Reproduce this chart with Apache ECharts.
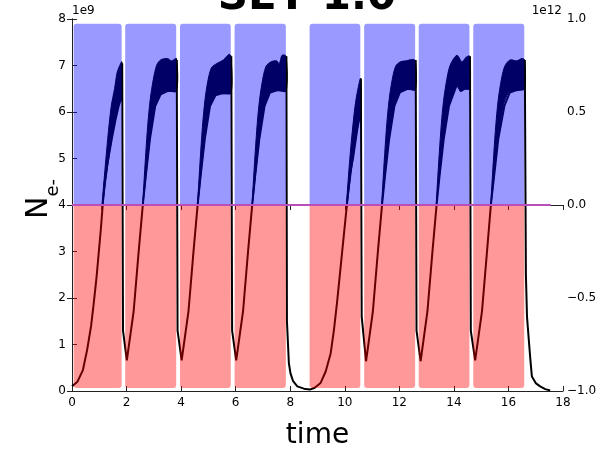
<!DOCTYPE html>
<html lang="en">

<head>
    <meta charset="UTF-8">
    <script src="https://cdn.jsdelivr.net/npm/echarts@6/dist/echarts.min.js"></script>
    <title>SEY 1.0</title>
    <style>
        html, body { margin: 0; padding: 0; background: #fff; overflow: hidden; }
        #chart { width: 614px; height: 455px; }
    </style>
</head>

<body>
    <div id="chart"></div>
    <script>
        // x ticks / y ticks
        var timeTicks = [0, 2, 4, 6, 8, 10, 12, 14, 16, 18];
        var leftTicks = [0, 1, 2, 3, 4, 5, 6, 7, 8];
        var rightTicks = [-1.0, -0.5, 0.0, 0.5, 1.0];

        // drive pulses (right axis, units of 1e12)
        var pulseStart = [0.06, 1.95, 3.96, 5.96, 8.71, 10.71, 12.71, 14.71];
        var pulseEnd = [1.82, 3.82, 5.82, 7.84, 10.57, 12.58, 14.57, 16.58];
        var pulseHigh = 0.974;
        var pulseLow = -0.984;

        // reference line on right axis
        var zeroLineTime = [0, 17.55];

        // electron count, thin part (units of 1e9)
        var curveTime = [
            0, 0.2, 0.4, 0.55, 0.7, 0.79, 0.9, 0.98, 1.06, 1.13, 1.2, 1.3, 1.46, 1.6, 1.71, 1.82, 1.84, 1.87,
            2.01, 2.26, 2.44, 2.6, 2.7, 2.86, 3.05, 3.25, 3.5, 3.82, 3.84, 3.87,
            4.02, 4.27, 4.45, 4.61, 4.71, 4.87, 5.06, 5.26, 5.5, 5.82, 5.84, 5.87,
            6.02, 6.27, 6.45, 6.61, 6.71, 6.87, 7.06, 7.26, 7.55, 7.84, 7.86, 7.88,
            7.95, 8.01, 8.1, 8.26, 8.5, 8.72, 8.9, 9.11, 9.3, 9.48, 9.6, 9.72, 9.9, 10.06, 10.2, 10.3, 10.45, 10.57, 10.59, 10.62,
            10.78, 11.03, 11.21, 11.37, 11.47, 11.63, 11.82, 12.02, 12.3, 12.58, 12.6, 12.63,
            12.78, 13.03, 13.21, 13.37, 13.47, 13.63, 13.82, 14.02, 14.11, 14.25, 14.4, 14.57, 14.59, 14.62,
            14.78, 15.03, 15.21, 15.36, 15.47, 15.63, 15.85, 16.05, 16.3, 16.58, 16.6, 16.64,
            16.68, 16.73, 16.8, 16.86, 17.0, 17.16, 17.35, 17.53
        ];
        var curveN = [
            0.1, 0.2, 0.45, 0.87, 1.4, 1.85, 2.45, 2.97, 3.5, 4.03, 4.5, 4.9, 5.43, 5.85, 6.13, 6.34, 7.05, 1.3,
            0.66, 1.71, 2.97, 4.03, 4.6, 5.43, 6.13, 6.38, 6.45, 6.45, 7.12, 1.3,
            0.66, 1.71, 2.97, 4.03, 4.6, 5.43, 6.13, 6.36, 6.4, 6.41, 7.2, 1.3,
            0.66, 1.71, 2.97, 4.03, 4.6, 5.43, 6.13, 6.42, 6.47, 6.45, 7.2, 1.5,
            0.6, 0.38, 0.22, 0.1, 0.05, 0.03, 0.07, 0.17, 0.42, 0.8, 1.3, 1.92, 2.97, 3.9, 4.7, 5.0, 5.6, 6.0, 6.72, 1.6,
            0.64, 1.71, 2.97, 4.03, 4.6, 5.43, 6.13, 6.42, 6.5, 6.48, 7.12, 1.3,
            0.64, 1.71, 2.97, 4.03, 4.6, 5.43, 6.13, 6.45, 6.59, 6.45, 6.5, 6.5, 7.2, 1.3,
            0.66, 1.71, 2.97, 4.03, 4.6, 5.43, 6.13, 6.42, 6.47, 6.5, 7.12, 2.5,
            1.6, 1.22, 0.7, 0.31, 0.17, 0.1, 0.04, 0.01
        ];

        // oscillation band of each pulse: upper and lower envelope, [time, N]
        var bandUpper = [
            [[1.1, 4.0], [1.31, 5.43], [1.44, 6.13], [1.56, 6.5], [1.65, 6.84], [1.75, 7.0], [1.83, 7.08]],
            [[2.6, 4.1], [2.74, 5.43], [2.84, 6.13], [2.95, 6.6], [3.1, 7.0], [3.25, 7.12], [3.5, 7.15], [3.65, 7.1], [3.83, 7.15]],
            [[4.61, 4.1], [4.75, 5.43], [4.85, 6.13], [4.96, 6.6], [5.11, 6.95], [5.33, 7.05], [5.55, 7.12], [5.76, 7.24], [5.83, 7.2]],
            [[6.61, 4.1], [6.75, 5.43], [6.85, 6.13], [6.96, 6.6], [7.11, 6.98], [7.3, 7.08], [7.5, 7.1], [7.6, 7.04], [7.7, 7.22], [7.85, 7.2]],
            [[10.06, 4.0], [10.2, 5.1], [10.35, 6.0], [10.45, 6.4], [10.58, 6.72]],
            [[11.36, 4.1], [11.5, 5.43], [11.6, 6.13], [11.71, 6.6], [11.86, 6.98], [12.04, 7.08], [12.25, 7.1], [12.47, 7.13], [12.59, 7.1]],
            [[13.36, 4.1], [13.5, 5.43], [13.6, 6.13], [13.71, 6.6], [13.86, 7.0], [14.11, 7.22], [14.3, 7.08], [14.45, 7.18], [14.58, 7.2]],
            [[15.36, 4.1], [15.5, 5.43], [15.6, 6.13], [15.71, 6.6], [15.86, 6.98], [16.06, 7.12], [16.3, 7.1], [16.49, 7.15], [16.59, 7.12]]
        ];
        var bandLower = [
            [[1.1, 3.9], [1.3, 4.8], [1.46, 5.43], [1.6, 5.85], [1.71, 6.13], [1.83, 6.34]],
            [[2.6, 4.0], [2.86, 5.43], [3.05, 6.13], [3.25, 6.38], [3.5, 6.45], [3.83, 6.45]],
            [[4.61, 4.0], [4.87, 5.43], [5.06, 6.13], [5.26, 6.36], [5.5, 6.4], [5.83, 6.41]],
            [[6.61, 4.0], [6.87, 5.43], [7.06, 6.13], [7.26, 6.42], [7.55, 6.47], [7.85, 6.45]],
            [[10.06, 3.9], [10.3, 5.0], [10.45, 5.6], [10.58, 6.0]],
            [[11.36, 4.0], [11.62, 5.43], [11.81, 6.13], [12.01, 6.42], [12.3, 6.5], [12.59, 6.48]],
            [[13.36, 4.0], [13.62, 5.43], [13.81, 6.13], [14.01, 6.45], [14.11, 6.59], [14.25, 6.45], [14.4, 6.5], [14.58, 6.5]],
            [[15.36, 4.0], [15.62, 5.43], [15.81, 6.13], [16.01, 6.42], [16.3, 6.47], [16.59, 6.5]]
        ];

        var font = 'DejaVu Sans';
        var axisLineStyle = { color: '#222', width: 1 };

        var myChart = echarts.init(document.getElementById('chart'));

        var curveData = curveTime.map(function (t, i) { return [t, curveN[i]]; });

        var option = {
            animation: false,
            backgroundColor: '#fff',
            title: {
                text: 'SEY 1.0',
                left: 'center',
                top: -28,
                textStyle: { fontFamily: font, fontSize: 42, fontWeight: 'bold', color: '#000' }
            },
            grid: { left: 72, right: 51, top: 19, bottom: 57 },
            xAxis: [{
                type: 'value',
                min: 0, max: 18, interval: 2,
                name: 'time',
                nameLocation: 'middle',
                nameGap: 31,
                nameMoveOverlap: false,
                nameTextStyle: { fontFamily: font, fontSize: 28, color: '#000' },
                axisLine: { lineStyle: axisLineStyle },
                axisTick: { inside: true, length: 5, lineStyle: axisLineStyle },
                axisLabel: { fontFamily: font, fontSize: 12, color: '#000', margin: 6 },
                splitLine: { show: false }
            }, {
                type: 'value',
                position: 'top',
                min: 0, max: 18, interval: 2,
                axisLine: { lineStyle: axisLineStyle },
                axisTick: { inside: true, length: 5, lineStyle: axisLineStyle },
                axisLabel: { show: false },
                splitLine: { show: false }
            }],
            yAxis: [{
                type: 'value',
                min: 0, max: 8, interval: 1,
                name: '{n|N}{s|e-}',
                nameLocation: 'middle',
                nameRotate: 90,
                nameGap: 10,
                nameMoveOverlap: false,
                nameTextStyle: {
                    color: '#000',
                    padding: [0, 0, 0, 12],
                    rich: {
                        n: { fontFamily: font, fontSize: 30, color: '#000', verticalAlign: 'top', lineHeight: 30 },
                        s: { fontFamily: font, fontSize: 18, color: '#000', verticalAlign: 'top', padding: [20, 0, 0, 0] }
                    }
                },
                axisLine: { show: true, lineStyle: axisLineStyle },
                axisTick: { show: true, inside: true, length: 5, lineStyle: axisLineStyle },
                axisLabel: { fontFamily: font, fontSize: 12, color: '#000', margin: 6 },
                splitLine: { show: false }
            }, {
                type: 'value',
                position: 'right',
                min: -1, max: 1, interval: 0.5,
                axisLine: { show: true, lineStyle: axisLineStyle },
                axisTick: { show: true, inside: true, length: 5, lineStyle: axisLineStyle },
                axisLabel: {
                    fontFamily: font, fontSize: 12, color: '#000', margin: 4,
                    formatter: function (v) { return v.toFixed(1).replace('-', '\u2212'); }
                },
                splitLine: { show: false }
            }],
            graphic: [
                { type: 'text', left: 72, top: 5, style: { text: '1e9', font: '12px "DejaVu Sans"', fill: '#000' } },
                { type: 'text', right: 52, top: 5, style: { text: '1e12', font: '12px "DejaVu Sans"', fill: '#000' } }
            ],
            series: [
                {
                    // 电子数
                    type: 'line',
                    data: curveData,
                    showSymbol: false,
                    z: 2,
                    lineStyle: { color: '#000', width: 2 }
                },
                {
                    // 振荡带
                    type: 'custom',
                    z: 2,
                    data: bandUpper.map(function (b) { return b[0]; }),
                    renderItem: function (params, api) {
                        var i = params.dataIndex;
                        var up = bandUpper[i].map(function (p) { return api.coord(p); });
                        var lo = bandLower[i].slice().reverse().map(function (p) { return api.coord(p); });
                        return {
                            type: 'polygon',
                            shape: { points: up.concat(lo), smooth: 0.3 },
                            style: { fill: '#000', stroke: '#000', lineWidth: 1 }
                        };
                    }
                },
                {
                    // 正半周
                    type: 'custom',
                    yAxisIndex: 1,
                    z: 3,
                    data: pulseStart.map(function (s, i) { return [s, pulseEnd[i]]; }),
                    renderItem: function (params, api) {
                        var a = api.coord([api.value(0), pulseHigh]);
                        var b = api.coord([api.value(1), 0]);
                        return {
                            type: 'rect',
                            shape: { x: a[0], y: a[1], width: b[0] - a[0], height: b[1] - a[1], r: [3, 3, 0, 0] },
                            style: { fill: 'rgba(0,0,255,0.4)' }
                        };
                    }
                },
                {
                    // 负半周
                    type: 'custom',
                    yAxisIndex: 1,
                    z: 3,
                    data: pulseStart.map(function (s, i) { return [s, pulseEnd[i]]; }),
                    renderItem: function (params, api) {
                        var a = api.coord([api.value(0), 0]);
                        var b = api.coord([api.value(1), pulseLow]);
                        return {
                            type: 'rect',
                            shape: { x: a[0], y: a[1], width: b[0] - a[0], height: b[1] - a[1], r: [0, 0, 3, 3] },
                            style: { fill: 'rgba(255,0,0,0.4)' }
                        };
                    }
                },
                {
                    type: 'line',
                    yAxisIndex: 1,
                    z: 4,
                    data: zeroLineTime.map(function (t) { return [t, 0]; }),
                    showSymbol: false,
                    lineStyle: { color: '#b950b9', width: 2 }
                }
            ]
        };
        myChart.setOption(option);
    </script>
</body>

</html>
